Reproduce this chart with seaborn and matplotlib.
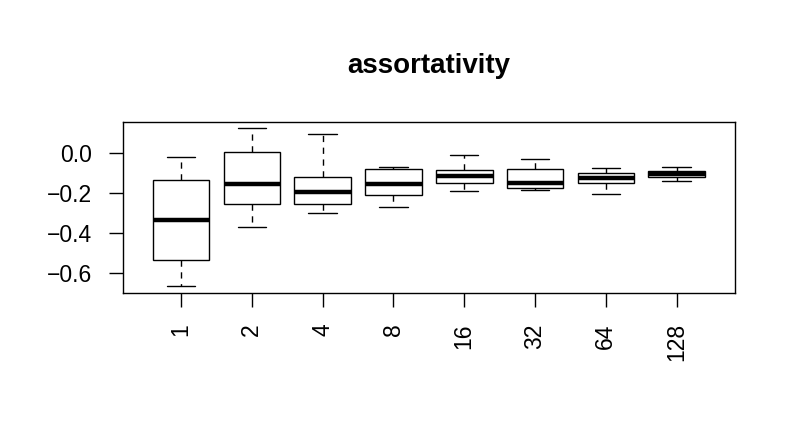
import numpy as np
import pandas as pd
import matplotlib
matplotlib.use("Agg")
import matplotlib.pyplot as plt
import seaborn as sns

# group labels and five-number summaries
groups = ["1", "2", "4", "8", "16", "32", "64", "128"]
g1 = [-0.663, -0.535, -0.335, -0.133, -0.017]
g2 = [-0.368, -0.253, -0.155, 0.007, 0.128]
g4 = [-0.298, -0.253, -0.192, -0.118, 0.097]
g8 = [-0.270, -0.207, -0.155, -0.080, -0.067]
g16 = [-0.187, -0.150, -0.112, -0.083, -0.008]
g32 = [-0.182, -0.173, -0.150, -0.077, -0.027]
g64 = [-0.205, -0.148, -0.125, -0.098, -0.072]
g128 = [-0.140, -0.117, -0.102, -0.087, -0.067]
values = [g1, g2, g4, g8, g16, g32, g64, g128]

df = pd.DataFrame({
    "size": np.repeat(groups, [len(v) for v in values]),
    "assortativity": np.concatenate(values),
})

sns.set_style("ticks")
plt.rcParams["font.family"] = ["Liberation Sans", "DejaVu Sans"]
plt.rcParams["axes.edgecolor"] = "black"
plt.rcParams["axes.linewidth"] = 1.0
plt.rcParams["text.color"] = "black"
plt.rcParams["axes.titlecolor"] = "black"

fig = plt.figure(figsize=(7.96, 4.46), dpi=100)
ax = fig.add_axes([0.1545, 0.344, 0.7685, 0.383])

sns.boxplot(data=df, x="size", y="assortativity", order=groups, ax=ax,
            color="white", linecolor="black", width=0.8, whis=np.inf,
            linewidth=1.0, fliersize=0,
            medianprops=dict(color="black", linewidth=3.2),
            whiskerprops=dict(color="black", linewidth=1.0, linestyle=(0, (4.5, 4))),
            capprops=dict(color="black", linewidth=1.0),
            capwidths=0.4)

ax.set_xlim(-0.82, 7.82)
ax.set_ylim(-0.697, 0.158)
ax.set_yticks([0.0, -0.2, -0.4, -0.6])
ax.set_yticklabels(["0.0", "\u22120.2", "\u22120.4", "\u22120.6"])
ax.set_xlabel("")
ax.set_ylabel("")
for s in ax.spines.values():
    s.set_visible(True)
    s.set_color("black")
ax.tick_params(axis="both", direction="out", length=10, width=1.0,
               labelsize=16.5, pad=12, color="black", labelcolor="black")
plt.setp(ax.get_xticklabels(), rotation=90)
ax.set_title("assortativity", fontsize=20, fontweight="bold", pad=35,
             color="black")

fig.savefig("out.png", dpi=100)
